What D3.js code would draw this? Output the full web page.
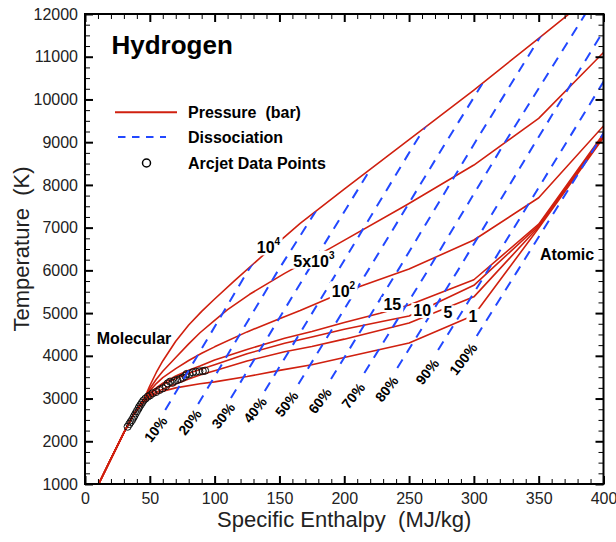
<!DOCTYPE html>
<html><head><meta charset="utf-8">
<script src="https://cdn.jsdelivr.net/npm/d3@7"></script>
<style>
body{margin:0;background:#fff;}
text{font-family:"Liberation Sans",Arial,Helvetica,sans-serif;white-space:pre;}
</style></head>
<body><svg id="chart" width="616" height="542"></svg>
<script>
// ---------------- data ----------------
const xTickValues = [0,50,100,150,200,250,300,350,400];
const yTickValues = [1000,2000,3000,4000,5000,6000,7000,8000,9000,10000,11000,12000];

const trunk = [[10.5,1000],[20,1590],[30,2200],[37,2600]];
const p1 = [[41,2760],[46,2930],[53,3080],[60,3170],[70,3250],[88.7,3345],[100,3390],[125,3515],[150,3660],[175,3790],[200,3960],[250,4300],[300,4950],[350,6990],[400,9110]];
const p5 = [[42,2830],[45,2940],[50,3060],[55,3150],[60,3220],[70,3340],[80,3460],[88.7,3550],[100,3650],[125,3880],[154,4096],[175,4220],[200,4390],[250,4770],[300,5380],[350,7020],[400,9140]];
const p10 = [[42,2830],[46,2990],[50,3100],[55,3220],[60,3320],[70,3470],[80,3590],[88.7,3680],[100,3790],[125,4050],[154,4292],[175,4440],[200,4620],[230,4810],[250,4930],[300,5650],[350,7050],[400,9170]];
const p15 = [[42,2830],[46,3000],[50,3120],[55,3250],[60,3360],[70,3530],[80,3660],[88.7,3760],[100,3900],[125,4150],[154,4409],[175,4570],[200,4780],[227.6,4994],[250,5190],[300,5780],[350,7080],[400,9200]];
const p100 = [[42,2830],[46,3010],[50,3180],[55,3350],[60,3490],[70,3700],[80,3890],[90,4060],[100,4210],[125,4560],[150,4870],[166,5060],[190,5370],[212,5620],[250,6030],[300,6710],[350,7700],[400,9380]];
const p5000 = [[42,2830],[46,3015],[50,3230],[55,3450],[60,3640],[70,3960],[80,4280],[88.7,4540],[100,4830],[110,5080],[127,5440],[154,5930],[189,6515],[248,7530],[300,8465],[350,9557],[400,11100]];
const p10000 = [[42,2830],[46,3020],[50,3300],[55,3610],[60,3880],[70,4340],[80,4720],[90,5040],[100,5330],[115,5750],[136,6317],[154,6785],[166,7100],[200,7900],[250,9060],[300,10220],[350,11430],[400,12650]];

const pressureSeries = [p1,p5,p10,p15,p100,p5000,p10000];
const pressureLabelMain = ["1","5","10","15","10","5x10","10"];
const pressureLabelSup  = ["","","","","2","3","4"];
const pressureLabelH = [295.8,276.5,253.3,230.2,190.4,160.7,132.5];
const pressureLabelT = [4798,4877,4931,5072,5369,6085,6398];

const d10  = [[61.9,2732],[125.9,6000],[191.8,9000]];
const d20  = [[87.3,2872],[149.0,6000],[212.0,9000]];
const d30  = [[112.6,3012],[172.2,6000],[233.0,9000],[296.0,12000]];
const d40  = [[138.7,3176],[195.3,6000],[255.0,9000],[318.0,12000]];
const d50  = [[164.7,3340],[218.4,6000],[278.5,9000],[340.0,12000]];
const d60  = [[189.8,3457],[241.4,6000],[301.0,9000],[362.0,12000]];
const d70  = [[215.5,3597],[264.5,6000],[324.0,9000],[386.0,12000]];
const d80  = [[240.9,3714],[287.7,6000],[347.5,9000],[408.0,12000]];
const d90  = [[272.4,4136],[310.8,6000],[371.5,9000],[432.0,12000]];
const d100 = [[302.2,4463],[333.9,6000],[395.7,9000],[457.6,12000]];
const dissocSeries = [d10,d20,d30,d40,d50,d60,d70,d80,d90,d100];
const dissocLabels = ["10%","20%","30%","40%","50%","60%","70%","80%","90%","100%"];
const dissocLabelH = [54.6,81.0,106.7,131.2,155.6,181.3,207.0,232.8,264.1,291.9];
const dissocLabelT = [2282,2444,2598,2732,2872,2949,3066,3223,3628,3925];

const arcjetH = [32.9,34.2,35.2,36.3,37.3,38.1,39.1,40.1,41.2,41.9,43.0,44.0,45.0,46.6,48.4,50.2,52.2,54.8,57.4,59.9,62.5,63.8,65.6,67.6,69.4,71.2,73.3,75.4,77.4,78.4,80.5,83.1,85.6,88.2,90.8,92.6];
const arcjetT = [2342,2404,2451,2498,2552,2599,2654,2708,2763,2810,2856,2903,2950,2997,3044,3075,3122,3153,3200,3239,3293,3356,3395,3371,3418,3434,3457,3488,3527,3574,3574,3613,3628,3636,3644,3652];

// ---------------- layout ----------------
const svg = d3.select("#chart");
const L=85, R=603.5, T0=14, B=484;
const x = d3.scaleLinear().domain([0,400]).range([L,R]);
const y = d3.scaleLinear().domain([1000,12000]).range([B,T0]);
const RED="#d0200f", BLUE="#2248ff";

const defs = svg.append("defs");
defs.append("clipPath").attr("id","plotclip").append("rect")
  .attr("x",L).attr("y",T0).attr("width",R-L).attr("height",B-T0);
const topCurve = trunk.concat(p10000);
const clipPts = topCurve.map(d=>[x(d[0]),y(d[1])]).concat([[x(400),y(12650)],[x(450),y(12650)],[x(450),y(1000)]]);
defs.append("clipPath").attr("id","dissclip").append("polygon")
  .attr("points", clipPts.map(p=>p.join(",")).join(" "));

const line = d3.line().x(d=>x(d[0])).y(d=>y(d[1]));

const plot = svg.append("g").attr("clip-path","url(#plotclip)");
plot.selectAll("path.pres").data(pressureSeries).join("path")
  .attr("class","pres")
  .attr("d", s=>line(trunk.concat(s)))
  .attr("fill","none").attr("stroke",RED).attr("stroke-width",1.6).attr("stroke-linejoin","round");

plot.selectAll("circle.arc").data(arcjetH).join("circle")
  .attr("class","arc")
  .attr("cx",(d,i)=>x(d)).attr("cy",(d,i)=>y(arcjetT[i])).attr("r",3.6)
  .attr("fill","none").attr("stroke","#111").attr("stroke-width",1);

const dg = plot.append("g").append("g").attr("clip-path","url(#dissclip)");
dg.selectAll("path.dis").data(dissocSeries).join("path")
  .attr("class","dis")
  .attr("d", line)
  .attr("fill","none").attr("stroke",BLUE).attr("stroke-width",2)
  .attr("stroke-dasharray","10,8");

const labG = svg.append("g");
pressureLabelMain.forEach((m,i)=>{
  const g = labG.append("g");
  const t = g.append("text").attr("x",x(pressureLabelH[i])).attr("y",y(pressureLabelT[i]))
    .attr("font-size",16).attr("font-weight","bold").attr("fill","#000");
  t.append("tspan").text(m);
  if(pressureLabelSup[i]) t.append("tspan").attr("font-size",10).attr("dy",-8).text(pressureLabelSup[i]);
  const bb = t.node().getBBox();
  g.insert("rect","text").attr("x",bb.x-2).attr("y",bb.y+1).attr("width",bb.width+4).attr("height",bb.height-2).attr("fill","#fff");
});

svg.append("g").selectAll("text").data(dissocLabels).join("text")
  .attr("transform",(d,i)=>`translate(${x(dissocLabelH[i])},${y(dissocLabelT[i])}) rotate(-52)`)
  .attr("text-anchor","middle").attr("dy","0.35em")
  .attr("font-size",14).attr("font-weight","bold").attr("fill","#000")
  .text(d=>d);

svg.append("text").attr("x",x(9)).attr("y",y(4288)).attr("font-size",16).attr("font-weight","bold").text("Molecular");
svg.append("text").attr("x",x(351)).attr("y",y(6242)).attr("font-size",16).attr("font-weight","bold").text("Atomic");

// ---------------- axes ----------------
const xMinor = d3.range(0,401,10).filter(v=>v%50!==0);
const yMinor = d3.range(1000,12001,250).filter(v=>v%1000!==0);
function styleAxis(g,w){ g.select(".domain").remove(); g.selectAll(".tick line").attr("stroke","#000").attr("stroke-width",w); }

const axB = svg.append("g").attr("transform",`translate(0,${B})`)
  .call(d3.axisBottom(x).tickValues(xTickValues).tickSize(-8).tickPadding(9).tickFormat(d3.format("d")));
styleAxis(axB,2);
axB.selectAll("text").attr("font-size",16).attr("fill","#222").attr("font-family","Liberation Sans, Arial, sans-serif");
svg.append("g").attr("transform",`translate(0,${B})`).call(d3.axisBottom(x).tickValues(xMinor).tickSize(-5).tickFormat("")).call(g=>styleAxis(g,1));

const axT = svg.append("g").attr("transform",`translate(0,${T0})`)
  .call(d3.axisTop(x).tickValues(xTickValues).tickSize(-8).tickFormat(""));
styleAxis(axT,2);
svg.append("g").attr("transform",`translate(0,${T0})`).call(d3.axisTop(x).tickValues(xMinor).tickSize(-5).tickFormat("")).call(g=>styleAxis(g,1));

const axL = svg.append("g").attr("transform",`translate(${L},0)`)
  .call(d3.axisLeft(y).tickValues(yTickValues).tickSize(-8).tickPadding(7).tickFormat(d3.format("d")));
styleAxis(axL,2);
axL.selectAll("text").attr("font-size",16).attr("fill","#222").attr("font-family","Liberation Sans, Arial, sans-serif");
svg.append("g").attr("transform",`translate(${L},0)`).call(d3.axisLeft(y).tickValues(yMinor).tickSize(-5).tickFormat("")).call(g=>styleAxis(g,1));

const axR = svg.append("g").attr("transform",`translate(${R},0)`)
  .call(d3.axisRight(y).tickValues(yTickValues).tickSize(-8).tickFormat(""));
styleAxis(axR,2);
svg.append("g").attr("transform",`translate(${R},0)`).call(d3.axisRight(y).tickValues(yMinor).tickSize(-5).tickFormat("")).call(g=>styleAxis(g,1));

svg.append("rect").attr("x",L).attr("y",T0).attr("width",R-L).attr("height",B-T0)
  .attr("fill","none").attr("stroke","#000").attr("stroke-width",2);

svg.append("text").attr("x",(L+R)/2).attr("y",527).attr("text-anchor","middle")
  .attr("font-size",22).attr("fill","#222").text("Specific Enthalpy  (MJ/kg)");
svg.append("text").attr("transform",`translate(29,${(T0+B)/2}) rotate(-90)`).attr("text-anchor","middle")
  .attr("font-size",22).attr("fill","#222").text("Temperature  (K)");

svg.append("text").attr("x",111.5).attr("y",53.5).attr("font-size",26).attr("font-weight","bold").text("Hydrogen");
const lg = svg.append("g");
lg.append("line").attr("x1",115).attr("x2",177).attr("y1",112.3).attr("y2",112.3).attr("stroke",RED).attr("stroke-width",2);
lg.append("line").attr("x1",118).attr("x2",166).attr("y1",137).attr("y2",137).attr("stroke",BLUE).attr("stroke-width",2).attr("stroke-dasharray","7.5,6.5");
lg.append("circle").attr("cx",146.5).attr("cy",163).attr("r",4).attr("fill","none").attr("stroke","#000").attr("stroke-width",1.5);
const legTexts = ["Pressure  (bar)","Dissociation","Arcjet Data Points"];
lg.selectAll("text").data(legTexts).join("text")
  .attr("x",188).attr("y",(d,i)=>117.5+i*25.5).attr("font-size",16).attr("font-weight","bold")
  .text(d=>d);
</script></body></html>
